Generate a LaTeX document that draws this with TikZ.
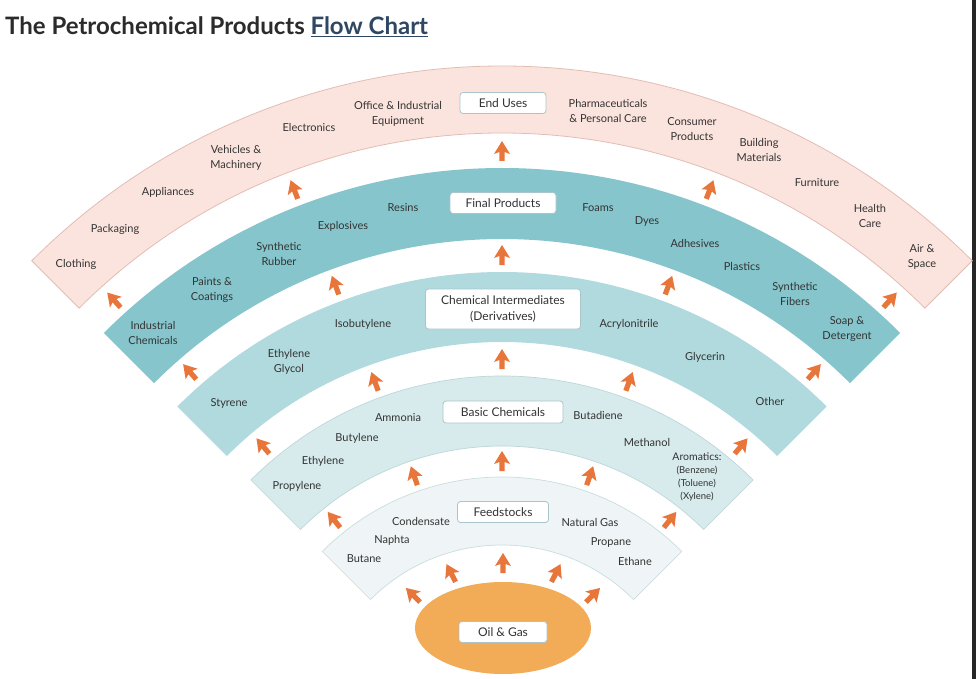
\documentclass[tikz,border=0pt]{standalone}
\usepackage{fontspec}
\setmainfont{Lato}
\usetikzlibrary{calc}
\definecolor{pinkband}{HTML}{FCE4DE}
\definecolor{pinkedge}{HTML}{E2BDB4}
\definecolor{tealband}{HTML}{86C5CC}
\definecolor{midband}{HTML}{B0DADE}
\definecolor{basicband}{HTML}{D7EBEC}
\definecolor{basicedge}{HTML}{BCD7DA}
\definecolor{feedband}{HTML}{EFF5F6}
\definecolor{feededge}{HTML}{CADDE0}
\definecolor{oilc}{HTML}{F2AB57}
\definecolor{arrowc}{HTML}{E8763A}
\definecolor{boxedge}{HTML}{A9C4CB}
\definecolor{txt}{HTML}{333333}
\definecolor{titlec}{HTML}{2B2B2B}
\definecolor{linkc}{HTML}{2E4763}
\definecolor{darkstrip}{HTML}{262626}
\newcommand{\fanband}[3]{\path[#3] (225:#1) arc[start angle=225,end angle=315,radius=#1] -- (315:#2) arc[start angle=315,end angle=225,radius=#2] -- cycle;}
\begin{document}
\begin{tikzpicture}[x=1pt,y=1pt,yscale=-1,
  lbl/.style={inner sep=0pt, align=center, text=txt, font=\fontsize{11}{15}\selectfont},
  catbox/.style={draw=boxedge, line width=0.8pt, fill=white, rounded corners=3pt, inner sep=0pt, align=center, text=txt, font=\fontsize{12}{16}\selectfont},
  farrow/.pic={\fill[arrowc] (10,0) -- (-3,-8) -- (-1,-2.6) -- (-10,-2.6) -- (-10,2.6) -- (-1,2.6) -- (-3,8) -- cycle;}
]
\useasboundingbox (0,0) rectangle (976,679);
\fill[white] (0,0) rectangle (976,679);
\fill[darkstrip] (972,0) rectangle (976,679);
% title
\node[anchor=base west, inner sep=0pt, font=\fontsize{24}{28}\bfseries\selectfont, text=titlec] (title) at (5,35) {The Petrochemical Products \textcolor{linkc}{\underline{Flow Chart}}};
% bands
\begin{scope}[shift={(502,731)}]
\fanband{665}{598}{fill=pinkband, draw=pinkedge, line width=0.8pt}
\fanband{563}{492}{fill=tealband}
\fanband{459}{389}{fill=midband}
\fanband{355}{285}{fill=basicband, draw=basicedge, line width=0.7pt}
\fanband{254}{186}{fill=feedband, draw=feededge, line width=0.7pt}
% arrows between bands
\foreach \a in {231.5,251,270,289,308.5} \pic[rotate={-\a}] at (\a:270) {farrow};
\foreach \a in {230,250,270,290,310} \pic[rotate={-\a}] at (\a:372) {farrow};
\foreach \a in {229,249.5,270,290.5,311} \pic[rotate={-\a}] at (\a:476) {farrow};
\foreach \a in {228,249,270,291,312} \pic[rotate={-\a}] at (\a:580) {farrow};
\end{scope}
% arrows from oil & gas
\pic[rotate=-225] at (413,595) {farrow};
\pic[rotate=-243] at (451,573) {farrow};
\pic[rotate=-270] at (503,563) {farrow};
\pic[rotate=-297] at (556,573) {farrow};
\pic[rotate=-315] at (593,595) {farrow};
% oil & gas
\fill[oilc] (503,628) ellipse[x radius=88, y radius=46];
\node[catbox, minimum width=88, minimum height=21] (oilgas) at (503,632) {Oil \& Gas};
% end uses
\node[catbox, minimum width=86, minimum height=21] (enduses) at (503,103) {End Uses};
\node[lbl] (clothing) at (76,264) {Clothing};
\node[lbl] (packaging) at (115,229) {Packaging};
\node[lbl] (appliances) at (168,192) {Appliances};
\node[lbl] (vehicles) at (236,158) {Vehicles \&\\Machinery};
\node[lbl] (electronics) at (309,127) {Electronics};
\node[lbl] (office) at (398,114) {Office \& Industrial\\Equipment};
\node[lbl] (pharma) at (608,111) {Pharmaceuticals\\\& Personal Care};
\node[lbl] (consumer) at (692,129) {Consumer\\Products};
\node[lbl] (building) at (759,150) {Building\\Materials};
\node[lbl] (furniture) at (817,183) {Furniture};
\node[lbl] (health) at (870,216) {Health\\Care};
\node[lbl] (airspace) at (922,257) {Air \&\\Space};
% final products
\node[catbox, minimum width=106, minimum height=21] (finalbox) at (503,203) {Final Products};
\node[lbl] (industrial) at (153,333) {Industrial\\Chemicals};
\node[lbl] (paints) at (212,290) {Paints \&\\Coatings};
\node[lbl] (rubber) at (279,254) {Synthetic\\Rubber};
\node[lbl] (explosives) at (343,226) {Explosives};
\node[lbl] (resins) at (403,208) {Resins};
\node[lbl] (foams) at (598,208) {Foams};
\node[lbl] (dyes) at (647,222) {Dyes};
\node[lbl] (adhesives) at (695,243) {Adhesives};
\node[lbl] (plastics) at (742,266) {Plastics};
\node[lbl] (fibers) at (795,294) {Synthetic\\Fibers};
\node[lbl] (soap) at (847,329) {Soap \&\\Detergent};
% chemical intermediates
\node[catbox, minimum width=155, minimum height=40] (interbox) at (503,309) {Chemical Intermediates\\(Derivatives)};
\node[lbl] (styrene) at (229,403) {Styrene};
\node[lbl] (glycol) at (289,362) {Ethylene\\Glycol};
\node[lbl] (isobutylene) at (363,324) {Isobutylene};
\node[lbl] (acrylonitrile) at (629,324) {Acrylonitrile};
\node[lbl] (glycerin) at (705,357) {Glycerin};
\node[lbl] (other) at (770,401) {Other};
% basic chemicals
\node[catbox, minimum width=120, minimum height=22] (basicbox) at (503,412) {Basic Chemicals};
\node[lbl] (propylene) at (297,486) {Propylene};
\node[lbl] (ethylene) at (323,461) {Ethylene};
\node[lbl] (butylene) at (357,438) {Butylene};
\node[lbl] (ammonia) at (398,418) {Ammonia};
\node[lbl] (butadiene) at (598,415) {Butadiene};
\node[lbl] (methanol) at (647,442) {Methanol};
\node[lbl, font=\fontsize{9.5}{13}\selectfont] (aromatics) at (697,477) {{\fontsize{10.5}{13}\selectfont Aromatics:}\\(Benzene)\\(Toluene)\\(Xylene)};
% feedstocks
\node[catbox, minimum width=91, minimum height=21] (feedbox) at (503,512) {Feedstocks};
\node[lbl] (butane) at (364,559) {Butane};
\node[lbl] (naphta) at (392,540) {Naphta};
\node[lbl] (condensate) at (421,521) {Condensate};
\node[lbl] (natgas) at (590,522) {Natural Gas};
\node[lbl] (propane) at (611,542) {Propane};
\node[lbl] (ethane) at (635,561) {Ethane};
\end{tikzpicture}
\end{document}
